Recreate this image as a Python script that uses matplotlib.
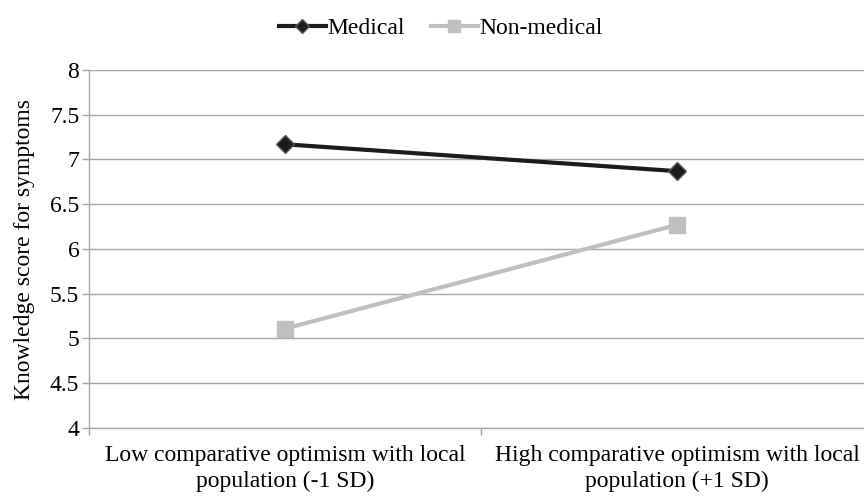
import matplotlib
matplotlib.use("Agg")
import matplotlib.pyplot as plt
from matplotlib.ticker import FixedLocator

categories = ["Low comparative optimism with local\npopulation (-1 SD)",
              "High comparative optimism with local\npopulation (+1 SD)"]
medical = [7.17, 6.87]
non_medical = [5.11, 6.27]
yticks = [4, 4.5, 5, 5.5, 6, 6.5, 7, 7.5, 8]

plt.rcParams['font.family'] = ['Liberation Serif', 'DejaVu Serif']
FS = 17

fig = plt.figure(figsize=(8.64, 4.97), dpi=100)
ax = fig.add_axes([89/864, (497-428)/497, 784/864, 358/497])

x = [0, 1]
ax.plot(x, medical, color='#1c1c1c', lw=3, marker='D', ms=9.5, mfc='#1c1c1c',
        mec='#5a5a5a', mew=1, label='Medical', zorder=3)
ax.plot(x, non_medical, color='#bfbfbf', lw=3, marker='s', ms=11.5, mfc='#bfbfbf',
        mec='#bfbfbf', label='Non-medical', zorder=3)

ax.set_xlim(-0.5, 1.5)
ax.set_ylim(4, 8)
ax.yaxis.set_major_locator(FixedLocator(yticks))
ax.set_yticklabels([f"{v:g}" for v in yticks])
ax.grid(axis='y', color='#a6a6a6', lw=1)
ax.set_axisbelow(True)

ax.set_xticks(x)
ax.set_xticklabels(categories, fontsize=FS, linespacing=1.3)
ax.xaxis.set_minor_locator(FixedLocator([-0.5, 0.5, 1.5]))
ax.tick_params(axis='x', which='major', length=0, pad=12)
ax.tick_params(axis='x', which='minor', length=5, color='#a6a6a6', width=1)
ax.tick_params(axis='y', length=5, color='#a6a6a6', width=1, labelsize=FS, pad=2)

for s in ['top', 'right']:
    ax.spines[s].set_visible(False)
for s in ['left', 'bottom']:
    ax.spines[s].set_color('#a6a6a6')
    ax.spines[s].set_linewidth(1)

ax.set_ylabel("Knowledge score for symptoms", fontsize=FS, labelpad=11)

fig.legend(loc='upper center', bbox_to_anchor=(0.51, 1.007), ncol=2, frameon=False,
           fontsize=FS, handlelength=2.0, handletextpad=0.05, columnspacing=1.1,
           markerscale=0.7)

fig.savefig("out.png", dpi=100)
